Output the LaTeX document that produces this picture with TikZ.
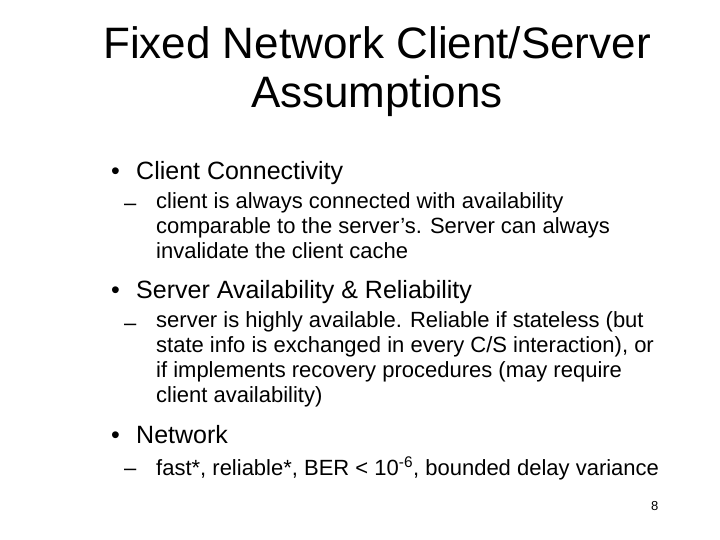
\documentclass[tikz,border=0pt]{standalone}
\usepackage{fontspec}
\setmainfont{Liberation Sans}
\tikzset{
  title/.style={anchor=base, font=\fontsize{44}{50}\selectfont, align=center},
  bullet/.style={anchor=base west, font=\fontsize{25}{30}\selectfont},
  sub/.style={anchor=base west, font=\fontsize{22}{25}\selectfont, align=left, inner sep=0pt},
  dot/.style={anchor=base west, inner sep=0pt}
}
\begin{document}
\begin{tikzpicture}[x=1pt,y=-1pt]
\useasboundingbox (0,0) rectangle (720,540);
\node (t1) [title, inner sep=0pt] at (377,59) {Fixed Network Client/Server};
\node (t2) [title, inner sep=0pt] at (377,108) {Assumptions};
% first item
\node (b1) [dot, font=\fontsize{25}{30}\selectfont] at (111,180) {•};
\node (c1) [bullet, inner sep=0pt] at (136,180) {Client Connectivity};
\node (d1) [dot, font=\fontsize{22}{25}\selectfont] at (124,211) {–};
\node (s1) [sub, anchor=north west] at (156,192) {client is always connected with availability\\comparable to the server’s. Server can always\\invalidate the client cache};
% second item
\node (b2) [dot, font=\fontsize{25}{30}\selectfont] at (111,298) {•};
\node (c2) [bullet, inner sep=0pt] at (136,298) {Server Availability \& Reliability};
\node (d2) [dot, font=\fontsize{22}{25}\selectfont] at (124,330) {–};
\node (s2) [sub, anchor=north west] at (156,311) {server is highly available. Reliable if stateless (but\\state info is exchanged in every C/S interaction), or\\if implements recovery procedures (may require\\client availability)};
% third item
\node (b3) [dot, font=\fontsize{25}{30}\selectfont] at (111,443) {•};
\node (c3) [bullet, inner sep=0pt] at (136,443) {Network};
\node (d3) [dot, font=\fontsize{22}{25}\selectfont] at (124,475) {–};
\node (s3) [sub] at (156,475) {fast*, reliable*, BER < 10\textsuperscript{-6}, bounded delay variance};
\node (pg) [dot, font=\fontsize{13}{15}\selectfont] at (651,510) {8};
\end{tikzpicture}
\end{document}
